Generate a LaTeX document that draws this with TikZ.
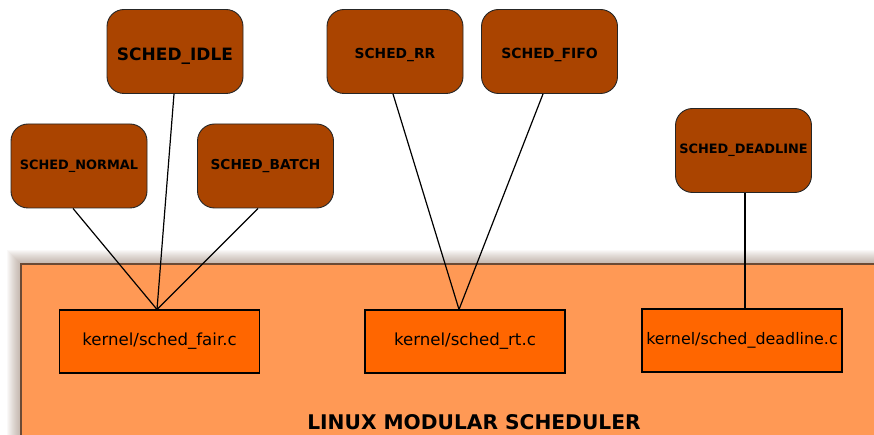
\documentclass[tikz,border=0pt]{standalone}
\usepackage{fontspec}
\setmainfont{DejaVu Sans}
\definecolor{policybrown}{HTML}{AA4400}
\definecolor{filebox}{HTML}{FF6600}
\definecolor{corebox}{HTML}{FF9955}
\definecolor{coreline}{HTML}{6B4A35}
\begin{document}
\begin{tikzpicture}[x=1pt,y=-1pt,
  policy/.style={fill=policybrown, draw=black!85, line width=0.9pt, rounded corners=17pt,
    minimum width=136pt, minimum height=84pt, inner sep=0pt, font=\bfseries},
  kfile/.style={fill=filebox, draw=black, line width=1.1pt,
    minimum width=200pt, minimum height=63pt, inner sep=0pt},
  link/.style={draw=black, line width=1.2pt}]
%\draw[help lines,step=50] (0,0) grid (874,435);
\useasboundingbox (0,0) rectangle (874,435);
% scheduler core, with its glow
\foreach \i in {1,...,14}
  \fill [coreline, opacity=0.035] (21-\i,264-\i) rectangle (895,455);
\fill [corebox, draw=coreline, line width=2.2pt] (21,264) rectangle (895,455);
\node (title) at (474,422) {\fontsize{20.2}{21}\selectfont\bfseries LINUX MODULAR SCHEDULER};
% scheduler classes
\node [kfile] (fair) at (159.5,341.5) {\fontsize{16.6}{18}\selectfont kernel/sched\_fair.c};
\node [kfile] (rt) at (465,341.5) {\fontsize{16.6}{18}\selectfont kernel/sched\_rt.c};
\node [kfile] (dl) at (742,340.5) {\fontsize{15.9}{18}\selectfont kernel/sched\_deadline.c};
% policies
\node [policy, text height=19pt, text depth=0pt] (idle) at (175,51.5) {\fontsize{17}{18}\selectfont SCHED\_IDLE};
\node [policy, text height=15pt, text depth=0pt] (rr) at (395,51.5) {\fontsize{13.8}{16}\selectfont SCHED\_RR};
\node [policy, text height=15pt, text depth=0pt] (fifo) at (549.5,51.5) {\fontsize{14}{16}\selectfont SCHED\_FIFO};
\node [policy] (normal) at (79,166) {\fontsize{12.9}{16}\selectfont SCHED\_NORMAL};
\node [policy] (batch) at (265.5,166) {\fontsize{13.7}{16}\selectfont SCHED\_BATCH};
\node [policy] (deadline) at (743.5,150.5) {\fontsize{12.9}{16}\selectfont SCHED\_DEADLINE};
% links
\draw [link] ([xshift=-6pt]normal.south) -- ([xshift=-2.5pt]fair.north);
\draw [link] ([xshift=-1pt]idle.south) -- ([xshift=-2.5pt]fair.north);
\draw [link] ([xshift=-7.5pt]batch.south) -- ([xshift=-2.5pt]fair.north);
\draw [link] ([xshift=-2pt]rr.south) -- ([xshift=-6pt]rt.north);
\draw [link] ([xshift=-6.5pt]fifo.south) -- ([xshift=-6pt]rt.north);
\draw [link] ([xshift=1.5pt]deadline.south) -- ([xshift=3pt]dl.north);
\end{tikzpicture}
\end{document}
